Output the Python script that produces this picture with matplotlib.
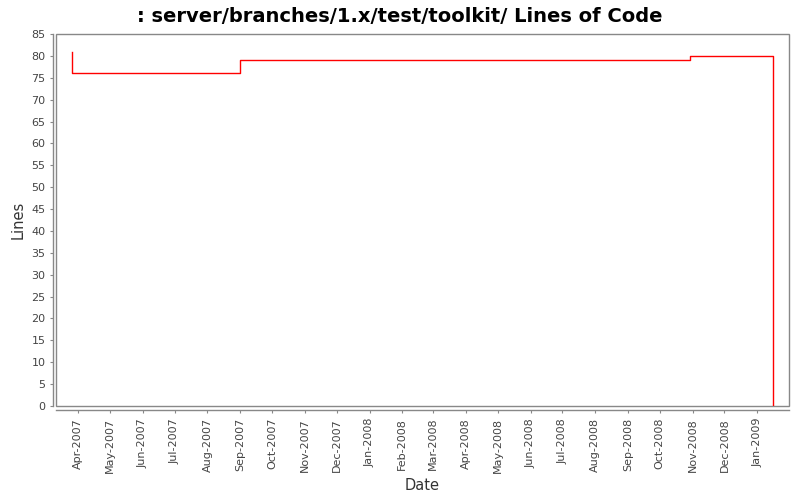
import matplotlib
matplotlib.use('Agg')
import matplotlib.pyplot as plt
import matplotlib.dates as mdates
import matplotlib.patches as patches
import numpy as np
from datetime import datetime

# data
dates = [datetime(2007, 3, 26), datetime(2007, 3, 26, 1), datetime(2007, 9, 1),
         datetime(2008, 10, 30), datetime(2009, 1, 16)]
lines = [81, 76, 79, 80, 0]
y_ticks = list(range(0, 90, 5))

fig = plt.figure(figsize=(8, 5), dpi=100)
ax = fig.add_axes([0.07, 0.188, 0.91625, 0.744])

ax.plot(dates, lines, drawstyle='steps-post', color='#ff0000', lw=1.0)

ax.set_xlim(datetime(2007, 3, 11), datetime(2009, 1, 31))
ax.set_ylim(0, 85)
ax.set_yticks(y_ticks)
ax.xaxis.set_major_locator(mdates.MonthLocator())
ax.xaxis.set_major_formatter(mdates.DateFormatter('%b-%Y'))

ax.tick_params(axis='both', labelsize=8, colors='#444444', length=2, width=0.8)
ax.tick_params(axis='both', color='#888888')
ax.tick_params(axis='x', labelrotation=90)

# axis lines sit a bit outside the plot border
for side in ['top', 'right']:
   ax.spines[side].set_visible(False)
ax.spines['left'].set_position(('outward', 2))
ax.spines['bottom'].set_position(('outward', 3))
for side in ['left', 'bottom']:
   ax.spines[side].set_color('#888888')
   ax.spines[side].set_linewidth(1.0)
ax.add_patch(patches.Rectangle((0, 0), 1, 1, transform=ax.transAxes, fill=False,
                               edgecolor='#888888', lw=1.0, clip_on=False))

ax.set_xlabel('Date', fontsize=10.5, color='#333333', fontweight='medium')
ax.set_ylabel('Lines', fontsize=10.5, color='#333333', fontweight='medium')
fig.suptitle(': server/branches/1.x/test/toolkit/ Lines of Code', fontsize=14,
             fontweight='bold', y=0.985)

fig.savefig('out.png', dpi=100)
